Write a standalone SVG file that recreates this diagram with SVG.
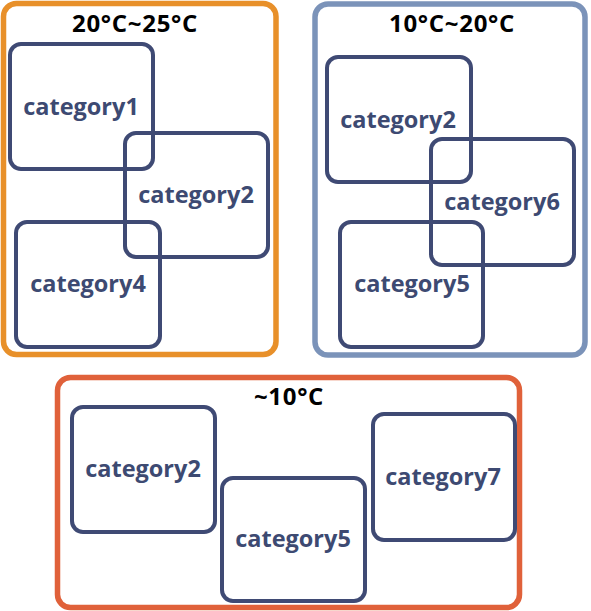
<svg xmlns="http://www.w3.org/2000/svg" width="591" height="611" viewBox="0 0 591 611">
<style>
.grp{fill:#fff;stroke-width:5.5}
.node{fill:none;stroke:#3f4a74;stroke-width:4}
.lbl{font-family:"Open Sans","Noto Sans",sans-serif;font-weight:700;font-size:23.5px;fill:#3d4a72;text-anchor:middle}
.ttl{font-family:"Open Sans","Noto Sans",sans-serif;font-weight:700;font-size:24px;letter-spacing:0.7px;fill:#000;text-anchor:middle}
</style>
<rect width="591" height="611" fill="#fff"/>
<g id="group-20-25">
<rect class="grp" x="3.5" y="3.5" width="272.5" height="351" rx="13" stroke="#e8902a"/>
<text class="ttl" x="135" y="32">20°C~25°C</text>
</g>
<g id="group-10-20">
<rect class="grp" x="315" y="4" width="270" height="351" rx="13" stroke="#7b93b9"/>
<text class="ttl" x="452" y="32">10°C~20°C</text>
</g>
<g id="group-10">
<rect class="grp" x="57.5" y="377.5" width="462" height="230" rx="13" stroke="#e0613a"/>
<text class="ttl" x="289" y="405">~10°C</text>
</g>
<g id="a-category1">
<rect class="node" x="10" y="44" width="143" height="125" rx="11"/>
<text class="lbl" x="81" y="115">category1</text>
</g>
<g id="a-category2">
<rect class="node" x="125" y="133" width="143" height="124" rx="11"/>
<text class="lbl" x="196" y="203">category2</text>
</g>
<g id="a-category4">
<rect class="node" x="16" y="222" width="144" height="125" rx="11"/>
<text class="lbl" x="88" y="292">category4</text>
</g>
<g id="b-category2">
<rect class="node" x="327" y="57" width="144" height="125" rx="11"/>
<text class="lbl" x="398" y="128">category2</text>
</g>
<g id="b-category6">
<rect class="node" x="431" y="139" width="143" height="126" rx="11"/>
<text class="lbl" x="502" y="210">category6</text>
</g>
<g id="b-category5">
<rect class="node" x="340" y="222" width="143" height="125" rx="11"/>
<text class="lbl" x="412" y="292">category5</text>
</g>
<g id="c-category2">
<rect class="node" x="72" y="407" width="143" height="125" rx="11"/>
<text class="lbl" x="143" y="477">category2</text>
</g>
<g id="c-category5">
<rect class="node" x="222" y="478" width="143" height="123" rx="11"/>
<text class="lbl" x="293" y="547">category5</text>
</g>
<g id="c-category7">
<rect class="node" x="373" y="414" width="142" height="126" rx="11"/>
<text class="lbl" x="443" y="485">category7</text>
</g>
<g id="connectors"/>
</svg>
